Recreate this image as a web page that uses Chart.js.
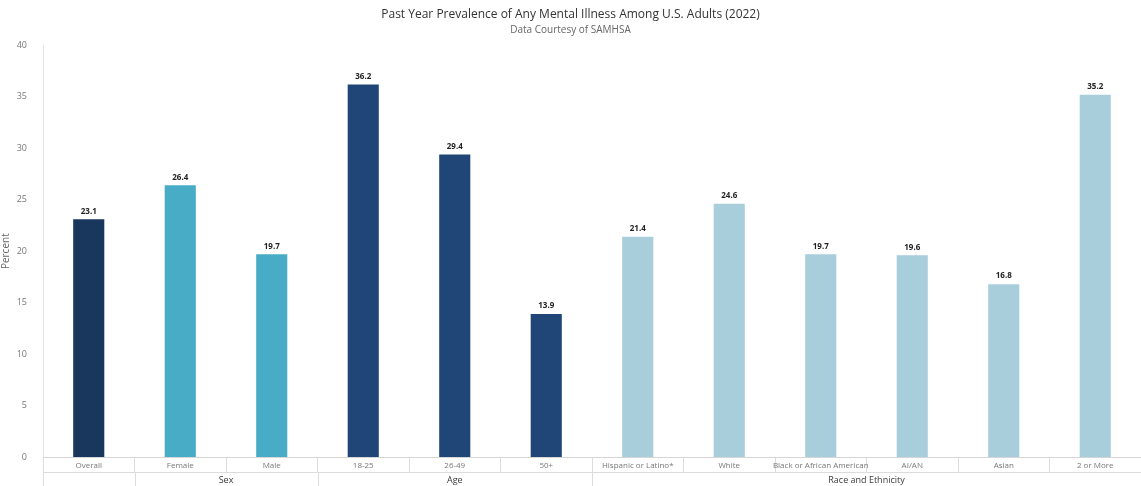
<!DOCTYPE html>
<html lang="en">
<head>
<meta charset="UTF-8">
<title>Mental Illness Prevalence</title>
<script src="https://cdn.jsdelivr.net/npm/chart.js"></script>
<style>
  html, body { margin: 0; padding: 0; background: #fff; }
  #wrap { width: 1141px; height: 486px; }
</style>
</head>
<body>
<div id="wrap"><canvas id="grafico"></canvas></div>
<script>
// dados
const categorias = ['Overall', 'Female', 'Male', '18-25', '26-49', '50+',
  'Hispanic or Latino*', 'White', 'Black or African American', 'AI/AN', 'Asian', '2 or More'];
const valores = [23.1, 26.4, 19.7, 36.2, 29.4, 13.9, 21.4, 24.6, 19.7, 19.6, 16.8, 35.2];
const grupos = ['', 'Sex', 'Age', 'Race and Ethnicity'];
const grupoInicio = [0, 1, 3, 6];   // primeira categoria de cada grupo
const grupoFim = [0, 2, 5, 11];     // ultima categoria de cada grupo
const cores = ['#19375d', '#48acc7', '#48acc7', '#1f4677', '#1f4677', '#1f4677',
  '#a8cddb', '#a8cddb', '#a8cddb', '#a8cddb', '#a8cddb', '#a8cddb'];
const ticksY = [0, 5, 10, 15, 20, 25, 30, 35, 40];

const FONTE = "'Open Sans', 'DejaVu Sans', sans-serif";

// rotulos acima das barras
const rotulosBarras = {
  id: 'rotulosBarras',
  afterDatasetsDraw(chart) {
    const ctx = chart.ctx;
    const meta = chart.getDatasetMeta(0);
    ctx.save();
    ctx.font = 'bold 8px ' + FONTE;
    ctx.fillStyle = '#222';
    ctx.textAlign = 'center';
    ctx.textBaseline = 'bottom';
    meta.data.forEach(function (bar, i) {
      ctx.fillText(valores[i].toFixed(1), bar.x, bar.y - 4);
    });
    ctx.restore();
  }
};

// segunda linha do eixo x com os grupos
const linhaGrupos = {
  id: 'linhaGrupos',
  afterDraw(chart) {
    const ctx = chart.ctx;
    const x = chart.scales.x;
    const area = chart.chartArea;
    const y1 = area.bottom + 15;
    const y2 = area.bottom + 30;
    const meio = (x.getPixelForValue(1) - x.getPixelForValue(0)) / 2;
    ctx.save();
    ctx.strokeStyle = '#dcdcdc';
    ctx.lineWidth = 1;
    ctx.beginPath();
    ctx.moveTo(area.left, y1 + 0.5);
    ctx.lineTo(area.right, y1 + 0.5);
    ctx.stroke();
    ctx.font = '9px ' + FONTE;
    ctx.fillStyle = '#3a3a3a';
    ctx.textAlign = 'center';
    ctx.textBaseline = 'middle';
    for (let g = 0; g < grupos.length; g++) {
      const esq = x.getPixelForValue(grupoInicio[g]) - meio;
      const dir = x.getPixelForValue(grupoFim[g]) + meio;
      ctx.beginPath();
      ctx.moveTo(Math.round(esq) + 0.5, y1);
      ctx.lineTo(Math.round(esq) + 0.5, y2);
      ctx.stroke();
      if (grupos[g]) ctx.fillText(grupos[g], (esq + dir) / 2, (y1 + y2) / 2 + 1);
    }
    ctx.restore();
  }
};

const dados = {
  labels: categorias,
  datasets: [{
    label: 'Percent',
    data: valores,
    backgroundColor: cores,
    barPercentage: 0.34,
    categoryPercentage: 1.0
  }]
};

const opcoes = {
  responsive: true,
  maintainAspectRatio: false,
  animation: false,
  layout: { padding: { left: 0, right: 0, top: 0, bottom: 0 } },
  plugins: {
    legend: { display: false },
    tooltip: { enabled: false },
    title: {
      display: true,
      text: 'Past Year Prevalence of Any Mental Illness Among U.S. Adults (2022)',
      color: '#333',
      font: { family: FONTE, size: 12, weight: 'normal' },
      padding: { top: 7, bottom: 3 }
    },
    subtitle: {
      display: true,
      text: 'Data Courtesy of SAMHSA',
      color: '#666',
      font: { family: FONTE, size: 10, weight: 'normal' },
      padding: { top: 0, bottom: 9 }
    }
  },
  scales: {
    y: {
      min: 0,
      max: 40,
      afterFit(scale) { scale.width = 43; },
      afterBuildTicks(scale) { scale.ticks = ticksY.map(v => ({ value: v })); },
      border: { display: true, color: '#e3e3e3' },
      grid: { display: false },
      ticks: { color: '#777', font: { family: FONTE, size: 9 }, padding: 8 },
      title: {
        display: true,
        text: 'Percent',
        color: '#666',
        font: { family: FONTE, size: 10 },
        padding: { top: 0, bottom: 0 }
      }
    },
    x: {
      afterFit(scale) { scale.height = 29; },
      border: { display: true, color: '#d6d6d6' },
      grid: {
        offset: true,
        drawOnChartArea: false,
        drawTicks: true,
        tickLength: 15,
        color: '#dcdcdc'
      },
      ticks: {
        color: '#777',
        font: { family: FONTE, size: 8 },
        padding: -11,
        maxRotation: 0,
        autoSkip: false
      }
    }
  }
};

new Chart(document.getElementById('grafico'), {
  type: 'bar',
  data: dados,
  options: opcoes,
  plugins: [rotulosBarras, linhaGrupos]
});
</script>
</body>
</html>
